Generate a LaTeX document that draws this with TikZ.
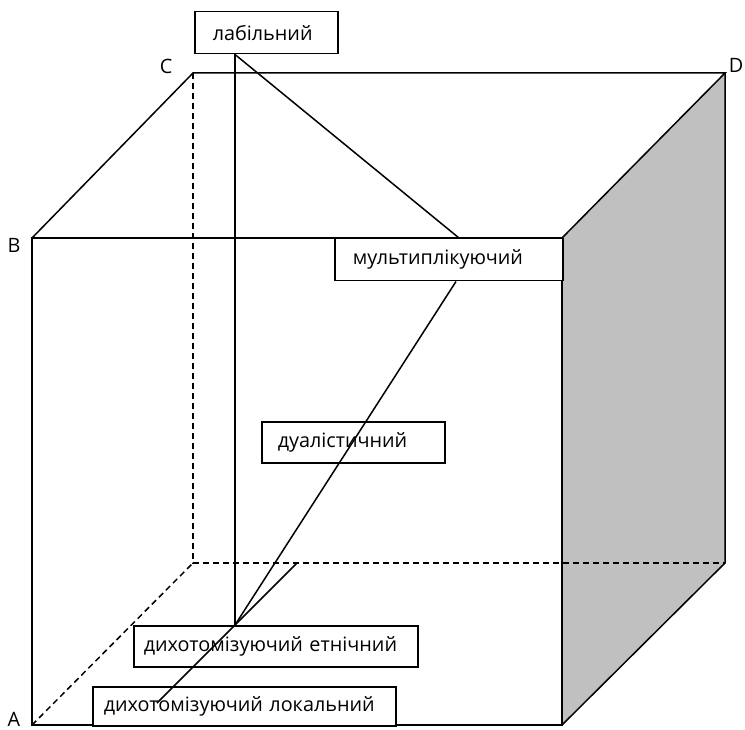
\documentclass[tikz,border=0pt]{standalone}
\usepackage{fontspec}
\setmainfont{Open Sans}
\usetikzlibrary{calc}
\definecolor{sidegray}{RGB}{192,192,192}
\tikzset{
  edge/.style={line width=1.5pt, line join=miter},
  hidden/.style={line width=1.5pt, dash pattern=on 6pt off 4pt},
  labelbox/.style={draw, line width=1.5pt, fill=white, anchor=north west,
    align=left, font=\fontsize{19.8}{22}\selectfont, inner ysep=0pt},
  corner/.style={font=\fontsize{19.8}{22}\selectfont, inner sep=0pt},
}
\begin{document}
\begin{tikzpicture}[x=1pt, y=-1pt]
\useasboundingbox (0,0) rectangle (745,730);

% cube vertices
\coordinate (A) at (32,725);
\coordinate (B) at (32,238);
\coordinate (C) at (193,73);
\coordinate (D) at (725,73);
\coordinate (Fr) at (562,238);
\coordinate (Fb) at (562,725);
\coordinate (Bb) at (725,563);
\coordinate (Bl) at (193,563);

% shaded right face
\fill[sidegray] (Fr) -- (D) -- (Bb) -- (Fb) -- cycle;

% visible edges
\draw[edge] (A) -- (B) -- (Fr) -- (Fb) -- cycle;
\draw[edge] (B) -- (C) -- (D) -- (Fr);
\draw[edge] (D) -- (Bb) -- (Fb);

% hidden edges
\draw[hidden] (C) -- (Bl) -- (Bb);
\draw[hidden] (A) -- (Bl);

% corner letters
\node[corner] (lA) at (14,719) {A};
\node[corner] (lB) at (14,245) {B};
\node[corner] (lC) at (166,66) {C};
\node[corner] (lD) at (736,65) {D};

% labelled boxes
\node[labelbox, inner xsep=18pt, text width=107pt, minimum height=42pt] (lab) at (194,11) {лабільний};
\node[labelbox, inner xsep=18pt, text width=192pt, minimum height=42pt] (mult) at (334,238) {мультиплікуючий};
\node[labelbox, inner xsep=16pt, text width=151pt, minimum height=41pt] (dual) at (261,421) {дуалістичний};
\node[labelbox, inner xsep=10pt, text width=264pt, minimum height=41pt] (eth) at (133,625) {дихотомізуючий етнічний};
\node[labelbox, inner xsep=11pt, text width=281pt, minimum height=39pt] (loc) at (92,686) {дихотомізуючий локальний};

% connectors between the boxes
\coordinate (labfoot) at ($(lab.south west)+(41,0)$);
\coordinate (ethtop) at ($(eth.north west)+(102,0)$);
\draw[edge] (labfoot) -- (ethtop);
\draw[edge] (labfoot) -- ($(mult.north west)+(125,0)$);
\draw[edge] ($(mult.south west)+(122,0)$) -- (ethtop);
\coordinate (depthstart) at ($(Bl)+(104,0)$);
\coordinate (depthend) at ($(loc.north west)+(65,17)$);
\draw[edge] (depthstart) -- (depthend);
\end{tikzpicture}
\end{document}
